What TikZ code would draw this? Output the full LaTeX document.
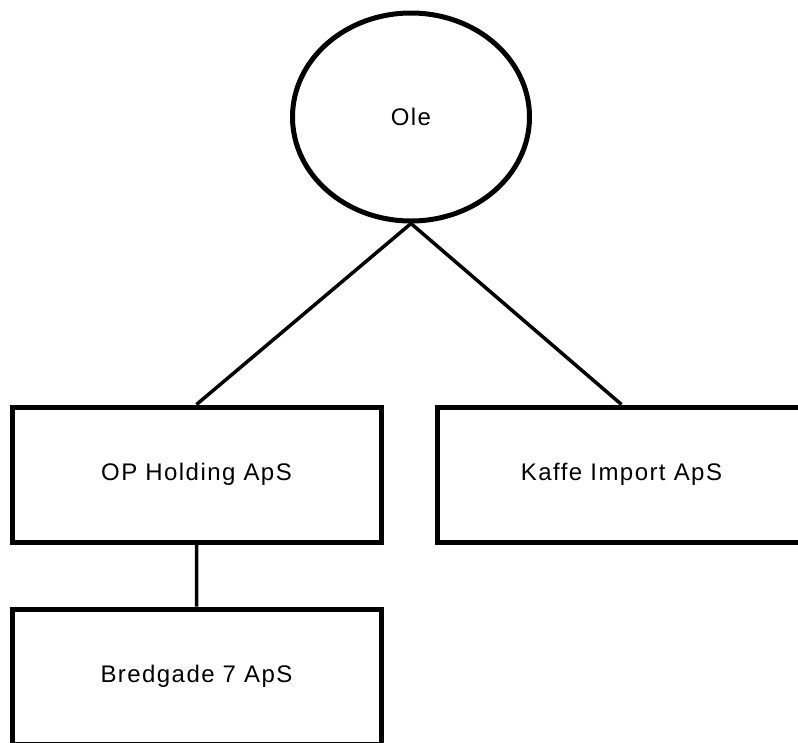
\documentclass[tikz,border=0pt]{standalone}
\usepackage{fontspec}
\setmainfont{Liberation Sans}[LetterSpace=6]
\usetikzlibrary{shapes.geometric}

\begin{document}
\begin{tikzpicture}[
                            x=1pt,
                            y=-1pt,
                            font=\fontsize{24}{28}\selectfont,
                            line width=3.5pt
                        ]
                        \tikzstyle{company}=[draw=black,line width=5pt,minimum width=369pt,minimum height=135pt]
                        \tikzstyle{owner}=[ellipse,draw=black,line width=5pt,minimum width=237pt,minimum height=208pt]

                        \useasboundingbox (0,0) rectangle (798,742);

                        \node[owner]   (ole)      at (411,117)     {Ole};
                        \node[company] (holding)  at (196.5,474.5) {OP Holding ApS};
                        \node[company] (kaffe)    [right of=holding,node distance=425pt] {Kaffe Import ApS};
                        \node[company] (bredgade) [below of=holding,node distance=202pt] {Bredgade 7 ApS};

                        \path[draw]
                        (ole.south)     -- (holding.north)
                        (ole.south)     -- (kaffe.north)
                        (holding.south) -- (bredgade.north)
                        ;
                    \end{tikzpicture}
\end{document}
